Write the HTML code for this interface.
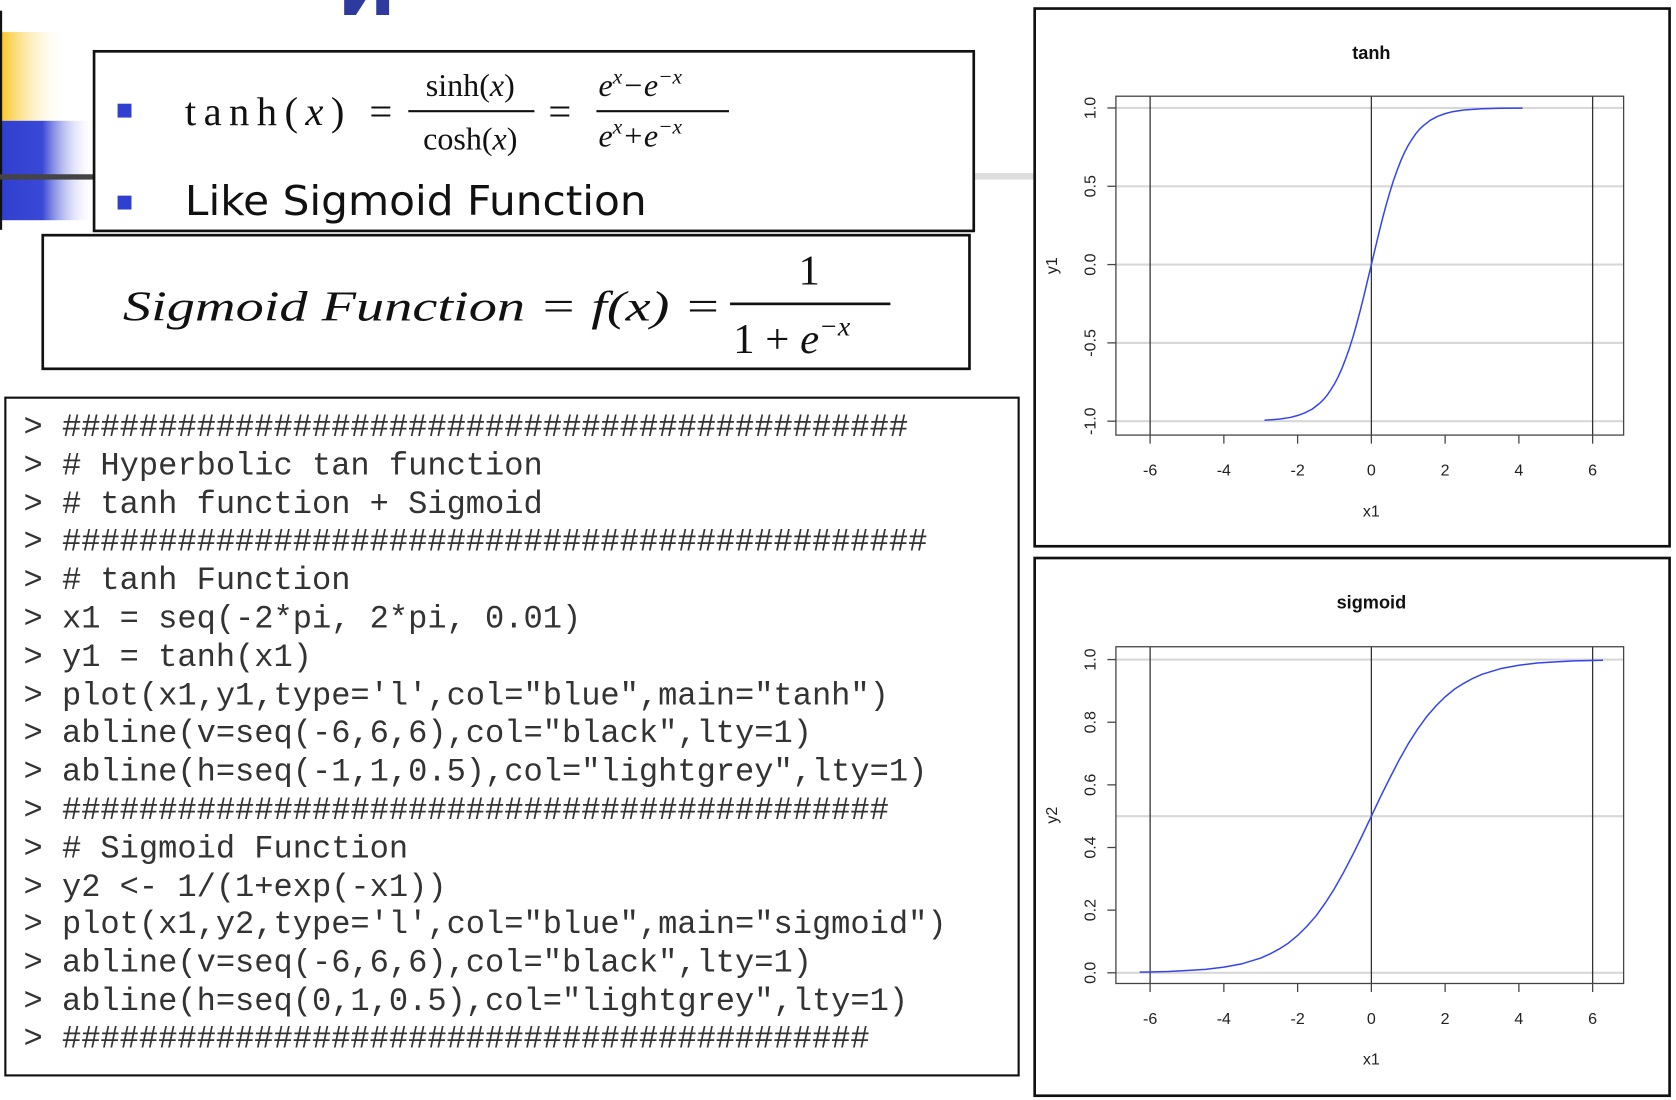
<!DOCTYPE html>
<html><head><meta charset="utf-8"><style>
html,body{margin:0;padding:0;background:#fff;}
svg{display:block;}
.code{font-family:"Liberation Mono",monospace;font-size:30px;fill:#333;}
.ax{font-family:"Liberation Sans",sans-serif;font-size:15px;fill:#222;}
</style></head><body>
<svg id="root" width="1676" height="1100" viewBox="0 0 1568 1029" preserveAspectRatio="none" xmlns="http://www.w3.org/2000/svg">
<defs>
<linearGradient id="gy" x1="0" x2="1"><stop offset="0" stop-color="#f7c51d"/><stop offset="1" stop-color="#fff" stop-opacity="0"/></linearGradient>
<linearGradient id="gb" x1="0" x2="1"><stop offset="0" stop-color="#2f3fcf"/><stop offset="0.45" stop-color="#3a48d6"/><stop offset="1" stop-color="#fff" stop-opacity="0"/></linearGradient>
</defs>
<g>
<rect x="0" y="30" width="62" height="83" fill="url(#gy)"/>
<rect x="0" y="113" width="88" height="93" fill="url(#gb)"/>
<rect x="0" y="10" width="2" height="205" fill="#111"/>
<rect x="0" y="163" width="90" height="5" fill="#444"/>
<rect x="910" y="162" width="58" height="6" fill="#ddd"/>
<path d="M322 0 L342 0 L333 14 L322 14 Z M352 0 L364 0 L364 14 L352 14 Z" fill="#2e3a9e"/>
</g>
<g>
<rect x="88" y="48" width="823" height="168" fill="#fff" stroke="#111" stroke-width="2.5"/>
<rect x="110" y="97" width="13" height="13" fill="#2f3fcf"/>
<rect x="110" y="183" width="13" height="13" fill="#2f3fcf"/>
<text x="173" y="117" font-family="Liberation Serif,serif" font-size="38" fill="#111" textLength="194" lengthAdjust="spacing">tanh(<tspan font-style="italic">x</tspan>) =</text>
<text x="440" y="90" text-anchor="middle" font-family="Liberation Serif,serif" font-size="30" fill="#111">sinh(<tspan font-style="italic">x</tspan>)</text>
<rect x="382" y="103" width="118" height="2" fill="#111"/>
<text x="440" y="140" text-anchor="middle" font-family="Liberation Serif,serif" font-size="30" fill="#111">cosh(<tspan font-style="italic">x</tspan>)</text>
<text x="513" y="117" font-family="Liberation Serif,serif" font-size="38" fill="#111">=</text>
<text x="560" y="90" font-family="Liberation Serif,serif" font-style="italic" font-size="30" fill="#111">e<tspan dy="-12" font-size="20">x</tspan><tspan dy="12">−e</tspan><tspan dy="-12" font-size="20">−x</tspan></text>
<rect x="558" y="103" width="124" height="2" fill="#111"/>
<text x="560" y="137" font-family="Liberation Serif,serif" font-style="italic" font-size="30" fill="#111">e<tspan dy="-12" font-size="20">x</tspan><tspan dy="12">+e</tspan><tspan dy="-12" font-size="20">−x</tspan></text>
<text x="173" y="201" font-family="DejaVu Sans,sans-serif" font-size="38" fill="#111" textLength="432" lengthAdjust="spacingAndGlyphs">Like Sigmoid Function</text>
</g>
<g>
<rect x="40" y="220" width="867" height="125" fill="#fff" stroke="#111" stroke-width="2.5"/>
<text x="115" y="300" font-family="Liberation Serif,serif" font-style="italic" font-size="40" fill="#111" textLength="560" lengthAdjust="spacingAndGlyphs">Sigmoid Function = f(x) =</text>
<text x="757" y="266" text-anchor="middle" font-family="Liberation Serif,serif" font-size="40" fill="#111">1</text>
<rect x="683" y="283" width="150" height="2.5" fill="#111"/>
<text x="686" y="330" font-family="Liberation Serif,serif" font-size="40" fill="#111">1 + <tspan font-style="italic">e</tspan><tspan dy="-16" font-size="26" font-style="italic">−x</tspan></text>
</g>
<g>
<rect x="5" y="372" width="948" height="634" fill="#fff" stroke="#111" stroke-width="2"/>
<text class="code" x="22" y="408">&gt; ############################################</text>
<text class="code" x="22" y="444">&gt; # Hyperbolic tan function</text>
<text class="code" x="22" y="480">&gt; # tanh function + Sigmoid</text>
<text class="code" x="22" y="515">&gt; #############################################</text>
<text class="code" x="22" y="551">&gt; # tanh Function</text>
<text class="code" x="22" y="587">&gt; x1 = seq(-2*pi, 2*pi, 0.01)</text>
<text class="code" x="22" y="623">&gt; y1 = tanh(x1)</text>
<text class="code" x="22" y="659">&gt; plot(x1,y1,type='l',col="blue",main="tanh")</text>
<text class="code" x="22" y="694">&gt; abline(v=seq(-6,6,6),col="black",lty=1)</text>
<text class="code" x="22" y="730">&gt; abline(h=seq(-1,1,0.5),col="lightgrey",lty=1)</text>
<text class="code" x="22" y="766">&gt; ###########################################</text>
<text class="code" x="22" y="802">&gt; # Sigmoid Function</text>
<text class="code" x="22" y="838">&gt; y2 &lt;- 1/(1+exp(-x1))</text>
<text class="code" x="22" y="873">&gt; plot(x1,y2,type='l',col="blue",main="sigmoid")</text>
<text class="code" x="22" y="909">&gt; abline(v=seq(-6,6,6),col="black",lty=1)</text>
<text class="code" x="22" y="945">&gt; abline(h=seq(0,1,0.5),col="lightgrey",lty=1)</text>
<text class="code" x="22" y="980">&gt; ##########################################</text>
</g>
<g id="tanhChart"></g>
<g id="sigChart"></g>
</svg>
<script>
const xTicks = [-6, -4, -2, 0, 2, 4, 6];
const vLines = [-6, 0, 6];
const tanhYTicks = [-1.0, -0.5, 0.0, 0.5, 1.0];
const tanhHLines = [-1, -0.5, 0, 0.5, 1];
const tanhX = [-2.9,-2.5,-2.2,-2,-1.8,-1.6,-1.4,-1.3,-1.2,-1.1,-1,-0.9,-0.8,-0.7,-0.6,-0.5,-0.4,-0.3,-0.2,-0.1,0,0.1,0.2,0.3,0.4,0.5,0.6,0.7,0.8,0.9,1,1.1,1.2,1.3,1.4,1.6,1.8,2,2.2,2.5,3,3.5,4.1];
const tanhY = [-0.994,-0.987,-0.976,-0.964,-0.947,-0.922,-0.885,-0.862,-0.834,-0.800,-0.762,-0.716,-0.664,-0.604,-0.537,-0.462,-0.380,-0.291,-0.197,-0.100,0,0.100,0.197,0.291,0.380,0.462,0.537,0.604,0.664,0.716,0.762,0.800,0.834,0.862,0.885,0.922,0.947,0.964,0.976,0.987,0.995,0.998,0.999];
const sigYTicks = [0.0, 0.2, 0.4, 0.6, 0.8, 1.0];
const sigHLines = [0, 0.5, 1];
const sigX = [-6.28,-5.5,-5,-4.5,-4,-3.5,-3,-2.75,-2.5,-2.25,-2,-1.75,-1.5,-1.25,-1,-0.75,-0.5,-0.25,0,0.25,0.5,0.75,1,1.25,1.5,1.75,2,2.25,2.5,2.75,3,3.5,4,4.5,5,5.5,6.28];
const sigY = [0.002,0.004,0.007,0.011,0.018,0.029,0.047,0.060,0.076,0.095,0.119,0.148,0.182,0.223,0.269,0.321,0.378,0.438,0.5,0.562,0.622,0.679,0.731,0.777,0.818,0.852,0.881,0.905,0.924,0.940,0.953,0.971,0.982,0.989,0.993,0.996,0.998];

const NS = 'http://www.w3.org/2000/svg';
function mk(parent, tag, attrs, text) {
  const e = document.createElementNS(NS, tag);
  for (const k in attrs) e.setAttribute(k, attrs[k]);
  if (text !== undefined) e.textContent = text;
  parent.appendChild(e);
  return e;
}
function drawChart(g, o) {
  const sx = v => o.x0 + (v - (-6)) * o.kx;
  const sy = v => o.yBase - (v - o.yMin) * o.ky;
  const frame = mk(g, 'rect', {x: o.bx, y: o.by, width: 594, height: 503, fill: '#fff', stroke: '#111', 'stroke-width': 2.5});
  
  
  const title = mk(g, 'text', {x: 1283, y: o.by + 47, 'text-anchor': 'middle', 'font-family': 'Liberation Sans,sans-serif', 'font-size': 17, 'font-weight': 'bold', fill: '#111'}, o.title);
  
  
  o.hl.forEach(v => {
    const l = mk(g, 'line', {x1: o.px, x2: o.px + 475, y1: sy(v), y2: sy(v), stroke: '#d8d8d8', 'stroke-width': 2});
    
    
  });
  vLines.forEach(v => {
    const l = mk(g, 'line', {x1: sx(v), x2: sx(v), y1: o.py, y2: o.py + o.ph, stroke: '#333', 'stroke-width': 1.2});
    
    
  });
  const pts = o.xs.map((x, i) => sx(x).toFixed(1) + ',' + sy(o.ys[i]).toFixed(1)).join(' ');
  const line = mk(g, 'polyline', {points: pts, fill: 'none', stroke: '#3344ee', 'stroke-width': 1.4, 'stroke-linejoin': 'round'});
  
  
  const box = mk(g, 'rect', {x: o.px, y: o.py, width: 475, height: o.ph, fill: 'none', stroke: '#444', 'stroke-width': 1.2});
  
  
  xTicks.forEach(v => {
    const t = mk(g, 'line', {x1: sx(v), x2: sx(v), y1: o.py + o.ph, y2: o.py + o.ph + 8, stroke: '#444', 'stroke-width': 1.2});
    
    
    const lb = mk(g, 'text', {x: sx(v), y: o.py + o.ph + 38, 'text-anchor': 'middle', class: 'ax'}, String(v));
    
    
  });
  o.yt.forEach(v => {
    const t = mk(g, 'line', {x1: o.px - 8, x2: o.px, y1: sy(v), y2: sy(v), stroke: '#444', 'stroke-width': 1.2});
    
    
    const lb = mk(g, 'text', {x: 1025, y: sy(v), 'text-anchor': 'middle', class: 'ax', transform: 'rotate(-90 1025 ' + sy(v) + ')'}, v.toFixed(1));
    
    
  });
  const xl = mk(g, 'text', {x: 1283, y: o.py + o.ph + 76, 'text-anchor': 'middle', class: 'ax'}, 'x1');
  
  
  const ym = o.py + o.ph / 2;
  const yl = mk(g, 'text', {x: 989, y: ym, 'text-anchor': 'middle', class: 'ax', transform: 'rotate(-90 989 ' + ym + ')'}, o.ylab);
  
  
}
drawChart(document.getElementById('tanhChart'), {bx: 968, by: 8, title: 'tanh', px: 1044, py: 90, ph: 317, x0: 1076, kx: 34.5, yBase: 394, yMin: -1, ky: 146.5, hl: tanhHLines, yt: tanhYTicks, xs: tanhX, ys: tanhY, ylab: 'y1'});
drawChart(document.getElementById('sigChart'), {bx: 968, by: 522, title: 'sigmoid', px: 1044, py: 605, ph: 315, x0: 1076, kx: 34.5, yBase: 910, yMin: 0, ky: 293, hl: sigHLines, yt: sigYTicks, xs: sigX, ys: sigY, ylab: 'y2'});
</script>
</body></html>
